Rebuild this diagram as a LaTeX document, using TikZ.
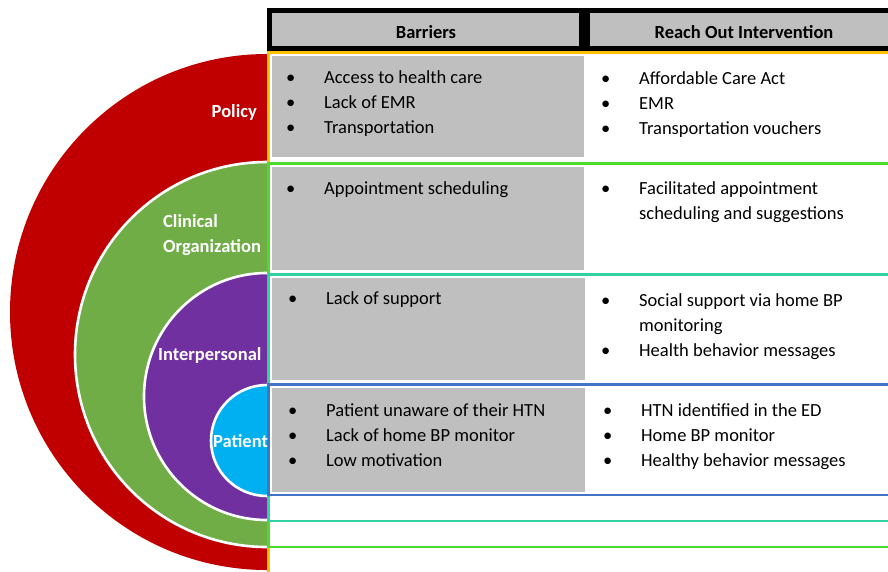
\documentclass[tikz,border=0pt]{standalone}
\usepackage{fontspec}
\setmainfont{Carlito}
\usetikzlibrary{positioning}

\definecolor{policyred}{HTML}{C00000}
\definecolor{clinicgreen}{HTML}{70AD47}
\definecolor{interpurple}{HTML}{7030A0}
\definecolor{patientcyan}{HTML}{00B0F0}
\definecolor{cellgray}{HTML}{BFBFBF}
\definecolor{policyline}{HTML}{FFC000}
\definecolor{clinicline}{HTML}{4CDB28}
\definecolor{interline}{HTML}{33D1A0}
\definecolor{patientline}{HTML}{4472C4}

% bullet list: bullet column, then the text
\newcommand{\itemrows}[1]{\begin{tabular}[t]{@{}p{38pt}@{}l@{}}#1\end{tabular}}
\newcommand{\bl}{\textbullet}

\begin{document}
\begin{tikzpicture}[x=1pt,y=-1pt]

\tikzset{
  ring/.style={draw=white,line width=2.6pt},
  frame/.style={line width=2.8pt},
  cell/.style={fill=cellgray,inner sep=0pt,anchor=north west},
  title/.style={font=\fontsize{18.5}{25}\selectfont\bfseries,inner sep=0pt},
  level/.style={text=white,font=\fontsize{18.5}{25}\selectfont\bfseries,inner sep=0pt},
  items/.style={font=\fontsize{18.5}{25}\selectfont,anchor=base west,inner sep=0pt}
}

\useasboundingbox (0,0) rectangle (888,571);
\clip (0,0) rectangle (888,571);

% half discs, outer to inner
\fill[policyred] (267,54) arc[start angle=270,end angle=90,x radius=257,y radius=258] -- cycle;
\fill[clinicgreen] (267,162) arc[start angle=270,end angle=90,x radius=192,y radius=192.5] -- cycle;
\draw[ring] (267,162) arc[start angle=270,end angle=90,x radius=192,y radius=192.5];
\fill[interpurple] (267,273) arc[start angle=270,end angle=90,x radius=123,y radius=123.5] -- cycle;
\draw[ring] (267,273) arc[start angle=270,end angle=90,x radius=123,y radius=123.5];
\fill[patientcyan] (267,385) arc[start angle=270,end angle=90,x radius=56,y radius=55.5] -- cycle;
\draw[ring] (267,385) arc[start angle=270,end angle=90,x radius=56,y radius=55.5];

% level frames
\draw[frame,policyline] (268.5,580) |- (895,52.5);
\draw[frame,clinicline] (268.5,163.5) rectangle (895,547);
\draw[frame,interline] (268.5,274.5) rectangle (895,521);
\draw[frame,patientline] (268.5,384.5) rectangle (895,495);

% header
\fill (267,8) rectangle (895,51);
\node[cell,minimum width=307pt,minimum height=33pt] (barriers) at (272,13) {};
\node[cell,minimum width=305pt,minimum height=33pt] (reachout) at (590,13) {};
\node[title] (barrierstitle) at (426,32) {Barriers};
\node[title] (reachouttitle) at (744,32) {Reach Out Intervention};

% barrier cells
\node[cell,minimum width=312pt,minimum height=101pt] (policybar) at (272,56) {};
\node[cell,minimum width=312pt,minimum height=103pt] (clinicalbar) at (272,167) {};
\node[cell,minimum width=313pt,minimum height=102pt] (interbar) at (272,278) {};
\node[cell,minimum width=313pt,minimum height=104pt] (patientbar) at (272,388) {};

% level names
\node[level,anchor=base east] (policy) at (257,117) {Policy};
\node[level,anchor=base west] (clinical) at (163,227) {Clinical};
\node[level,anchor=base west] (organization) at (163,252) {Organization};
\node[level,anchor=base west] (interpersonal) at (158,360) {Interpersonal};
\node[level,anchor=base west] (patient) at (213,447) {Patient};

% policy row
\node[items] (policyitems) at (286,83) {\itemrows{\bl & Access to health care\\ \bl & Lack of EMR\\ \bl & Transportation}};
\node[items] (policyreach) at (601,84) {\itemrows{\bl & Affordable Care Act\\ \bl & EMR\\ \bl & Transportation vouchers}};

% clinical row
\node[items] (clinicalitems) at (286,194) {\itemrows{\bl & Appointment scheduling}};
\node[items] (clinicalreach) at (601,194) {\itemrows{\bl & Facilitated appointment\\ & scheduling and suggestions}};

% interpersonal row
\node[items] (interitems) at (288,304) {\itemrows{\bl & Lack of support}};
\node[items] (interreach) at (601,306) {\itemrows{\bl & Social support via home BP\\ & monitoring\\ \bl & Health behavior messages}};

% patient row
\node[items] (patientitems) at (288,416) {\itemrows{\bl & Patient unaware of their HTN\\ \bl & Lack of home BP monitor\\ \bl & Low motivation}};
\node[items] (patientreach) at (603,416) {\itemrows{\bl & HTN identified in the ED\\ \bl & Home BP monitor\\ \bl & Healthy behavior messages}};

\end{tikzpicture}
\end{document}
